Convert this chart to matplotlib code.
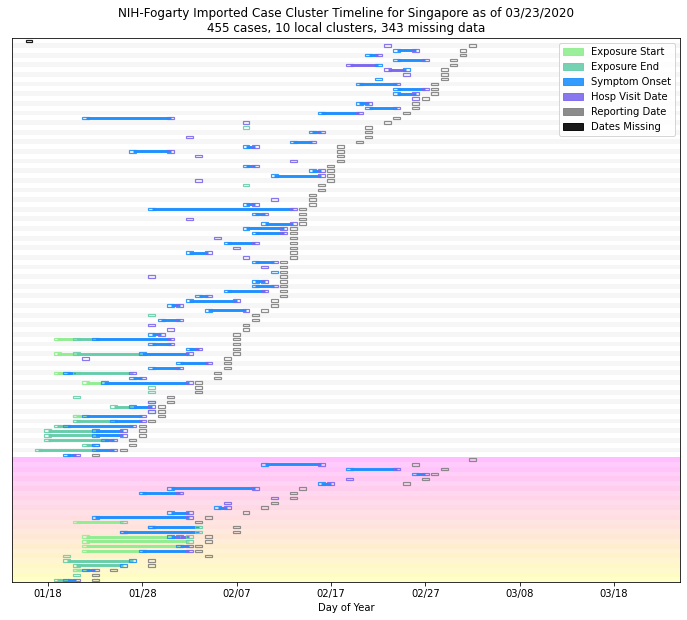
import matplotlib
matplotlib.use("Agg")
import matplotlib.pyplot as plt
from matplotlib.patches import Rectangle, Patch
import numpy as np
import datetime as dt

N = None
base_date = dt.date(2020, 1, 18)   # day 0 on the x axis

# one entry per case row (day offsets from 01/18), None = not reported
exp_start = [N, N, N, N, N, N, N, N, N, N, N, N, N, N, N, N, N, N, N, N,
             N, N, N, N, N, N, N, N, N, N, N, N, N, N, N, N, N, N, N, N,
             N, N, N, N, N, N, N, N, N, N, N, N, N, N, N, N, N, N, N, N,
             N, N, 1, N, N, 1, N, N, N, 1, N, 4, N, N, N, N, N, N, 3, N,
             N, N, N, N, N, N, N, N, N, N, N, N, N, N, N, N, N, N, N, N,
             3, N, N, 4, 4, 4, 4, N, N, N, 3, N, N]
exp_end = [N, N, N, N, N, N, N, N, N, N, N, N, N, N, N, N, N, N, 21, N,
           N, N, N, N, N, N, N, N, N, N, 21, N, N, N, N, N, N, N, N, N,
           N, N, N, N, N, N, N, N, N, N, N, N, N, N, N, N, N, 11, N, N,
           N, N, 3, N, N, 3, N, N, N, 3, N, N, 11, 11, 3, 11, 7, 11, 3, 3,
           1, 0, 0, 0, 4, -1, N, N, N, N, N, N, N, N, N, N, N, N, N, N,
           8, 16, 16, 15, 15, N, N, 2, 2, 3, 3, 3, 1]
onset = [N, N, 37, 34, 37, 35, 38, N, 35, 33, 37, 37, N, 33, 34, 29, 4, N, N, 28,
         N, 26, 21, 9, N, N, 21, 28, 24, N, N, N, N, N, 21, 11, 22, N, 23, 21,
         22, N, 19, N, 15, N, 22, N, 24, N, 22, 22, 19, 16, 15, 13, 17, N, 12, N,
         N, 11, 5, 11, 15, 10, N, 14, 11, 2, 9, 6, N, N, N, N, 9, N, 4, 7,
         2, 5, 5, 6, 5, 5, 2, N, 23, 32, 39, N, 29, 13, 10, N, N, 18, 13, 5,
         N, 11, 8, 13, N, 14, 10, N, 9, 8, 4, N, 2]
hosp = [N, 36, 39, 35, 40, 32, 36, 38, N, 37, 40, 39, 39, 34, 37, 33, 13, 21, N, 29,
        15, 28, 22, 13, 16, 26, 22, 29, 29, 16, N, N, N, 24, 22, 26, 23, 15, 26, 25,
        25, 18, 22, 20, 17, 21, 24, 23, N, 11, 23, 24, 23, 17, 20, 14, 21, N, 14, 11,
        13, 12, 13, 13, 16, 15, 4, 17, 14, 9, 10, 15, N, N, N, 11, 11, 11, 10, 10,
        9, 8, 8, 7, 5, 7, 3, N, 29, 37, 40, 32, 30, 22, 14, 24, 19, 19, 15, 15,
        N, 11, 8, 14, N, 15, 15, N, N, N, 5, N, 3]
report = [N, 45, 44, 44, 43, 43, 42, 42, 42, 41, 41, 41, 40, 39, 39, 38, 37, 36, 34, 34,
          34, 33, 31, 31, 31, 31, 30, 30, 30, 30, 29, 29, 28, 28, 28, 27, 27, 27, 27, 26,
          26, 26, 26, 26, 26, 26, 25, 25, 25, 25, 25, 25, 25, 25, 24, 24, 23, 22, 22, 21,
          21, 20, 20, 20, 20, 20, 19, 19, 19, 18, 18, 16, 16, 16, 13, 13, 12, 12, 12, 11,
          10, 10, 10, 9, 9, 8, 5, 45, 39, 42, 41, 40, 38, 27, 26, 26, 24, 23, 21, 17,
          16, 20, 20, 17, 17, 16, 16, 17, 11, 11, 7, 5, 5]
missing = [-2] + [N] * 112

n_local = 87      # rows above the imported block (incl. the missing-dates row)

colors = {
    "start": "lightgreen",
    "end": "mediumaquamarine",
    "onset": "dodgerblue",
    "hosp": "mediumslateblue",
    "report": "gray",
    "missing": "black",
}
labels = ["Exposure Start", "Exposure End", "Symptom Onset", "Hosp Visit Date",
          "Reporting Date", "Dates Missing"]


def main():
    n_rows = len(report)
    fig = plt.figure(figsize=(687 / 72, 620 / 72), dpi=72)
    ax = fig.add_axes([0.0175, 0.0608, 0.9723, 0.8774])

    # row shading
    cmap = plt.get_cmap("spring")
    n_imp = n_rows - n_local
    for i in range(n_rows):
        if i < n_local:
            c = "white" if i % 2 == 0 else "#f6f6f6"
            ax.axhspan(i - 0.5, i + 0.5, color=c, lw=0, zorder=0)
        else:
            t = (i - n_local) / (n_imp - 1)
            a = 0.25 if (i - n_local) % 2 == 0 else 0.21
            ax.axhspan(i - 0.5, i + 0.5, color=cmap(t), alpha=a, lw=0, zorder=0)

    w, h = 0.74, 0.5
    for i in range(n_rows):
        ev = []
        for key, arr, prio in [("end", exp_end, 0), ("start", exp_start, 1),
                               ("hosp", hosp, 2), ("onset", onset, 3)]:
            if arr[i] is not None:
                ev.append((arr[i], prio, key))
        ev.sort()
        for a, b in zip(ev[:-1], ev[1:]):
            if b[0] > a[0]:
                ax.plot([a[0], b[0]], [i, i], color=colors[a[2]], lw=2.9,
                        solid_capstyle="butt", zorder=2)
        marks = [(d, k) for d, _, k in ev]
        if report[i] is not None:
            marks.append((report[i], "report"))
        if missing[i] is not None:
            marks.append((missing[i], "missing"))
        for d, k in marks:
            ax.add_patch(Rectangle((d - w / 2, i - h / 2), w, h, fill=False,
                                   edgecolor=colors[k], lw=1.2, alpha=0.9, zorder=3))

    ax.set_xlim(-3.8, 67)
    ax.set_ylim(n_rows - 0.5, -0.5)
    ax.set_yticks([])
    ticks = np.arange(0, 61, 10)
    ax.set_xticks(ticks)
    ax.set_xticklabels([(base_date + dt.timedelta(days=int(t))).strftime("%m/%d") for t in ticks])
    ax.set_xlabel("Day of Year")
    ax.set_title("NIH-Fogarty Imported Case Cluster Timeline for Singapore as of 03/23/2020\n"
                 "455 cases, 10 local clusters, 343 missing data", fontsize=12)

    handles = [Patch(facecolor=colors[k], edgecolor=colors[k], alpha=0.9)
               for k in ["start", "end", "onset", "hosp", "report", "missing"]]
    ax.legend(handles, labels, loc="upper right", fontsize=10)

    fig.savefig("out.png", dpi=72)


if __name__ == "__main__":
    main()
